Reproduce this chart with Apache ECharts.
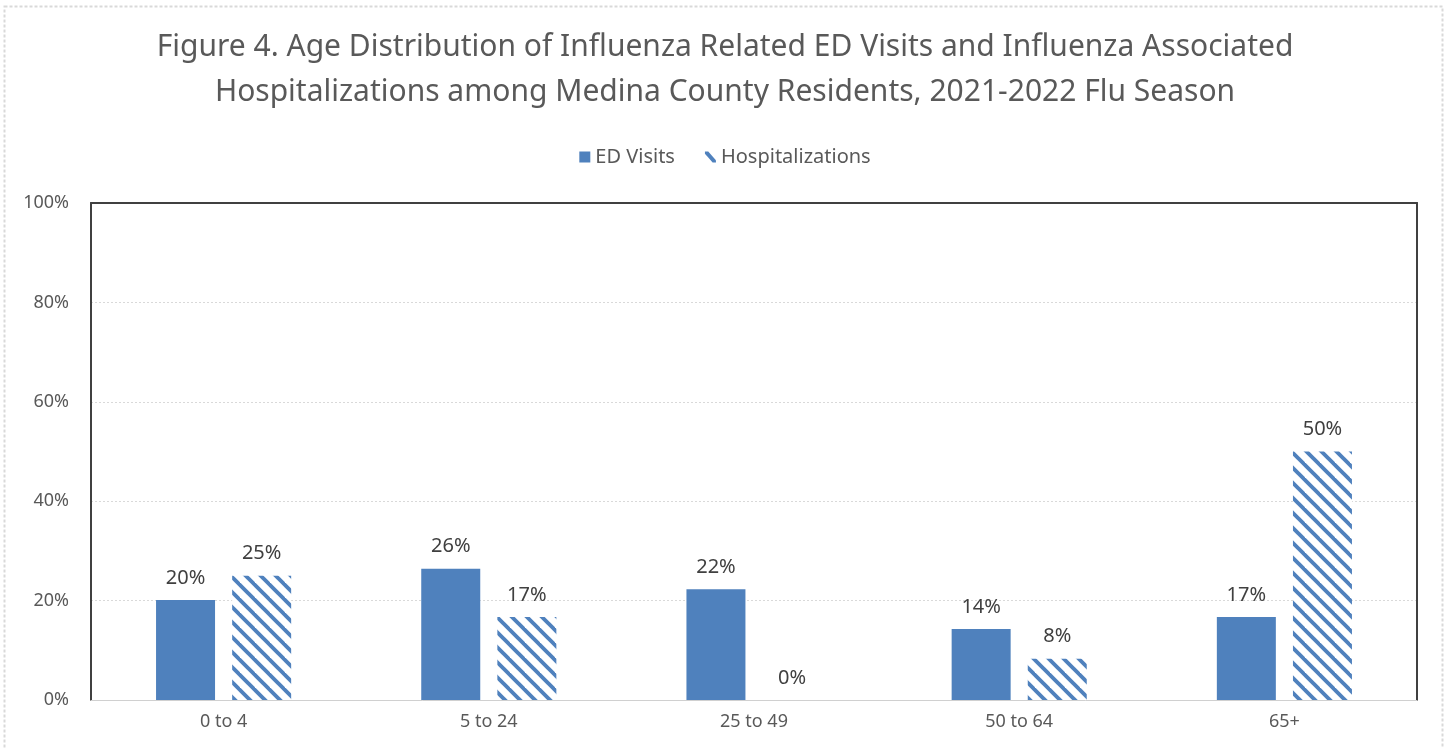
<!DOCTYPE html>
<html><head><meta charset="utf-8">
<script src="https://cdn.jsdelivr.net/npm/echarts@6/dist/echarts.min.js"></script>
<style>html,body{margin:0;padding:0;background:#fff}#c{width:1450px;height:748px}</style>
</head><body><div id="c"></div>
<script>
var categories = ['0 to 4', '5 to 24', '25 to 49', '50 to 64', '65+'];
var edVisits = [20.1, 26.4, 22.3, 14.3, 16.7];
var hospitalizations = [25.0, 16.7, 0, 8.3, 50.0];
var yTicks = [0, 20, 40, 60, 80, 100];

var BLUE = '#4f81bd';
function hatch() {
  var s = 15, c = document.createElement('canvas');
  c.width = s; c.height = s;
  var g = c.getContext('2d');
  g.fillStyle = '#fff'; g.fillRect(0, 0, s, s);
  g.strokeStyle = BLUE; g.lineWidth = 3.8;
  for (var k = -1; k <= 1; k++) {
    g.beginPath(); g.moveTo(k * s - 2, -2); g.lineTo(k * s + s + 2, s + 2); g.stroke();
  }
  return c;
}
var pat = { image: hatch(), repeat: 'repeat' };

var chart = echarts.init(document.getElementById('c'));
var lbl = { show: true, position: 'top', distance: 12, fontFamily: 'Noto Sans', fontSize: 20, color: '#404040',
  formatter: function (p) { return Math.round(p.value) + '%'; } };
chart.setOption({
  animation: false,
  title: {
    text: 'Figure 4. Age Distribution of Influenza Related ED Visits and Influenza Associated\nHospitalizations among Medina County Residents, 2021-2022 Flu Season',
    left: 'center', top: 20,
    textStyle: { fontFamily: 'Noto Sans', fontWeight: 'normal', fontSize: 30, color: '#595959', lineHeight: 45 }
  },
  legend: {
    top: 142, left: 'center', itemWidth: 11, itemHeight: 11, itemGap: 30,
    textStyle: { fontFamily: 'Noto Sans', fontSize: 20, color: '#595959' },
    data: [
      { name: 'ED Visits', icon: 'rect', itemStyle: { color: BLUE } },
      { name: 'Hospitalizations', icon: 'path://M0,0 L3,0 L10,8 L10,10 L7,10 L0,2 Z', itemStyle: { color: BLUE } }
    ]
  },
  graphic: [{
    type: 'rect', shape: { x: 4.5, y: 6.5, width: 1438, height: 760 },
    style: { fill: 'none', stroke: '#d9d9d9', lineWidth: 2, lineDash: [3, 2] }, silent: true, z: -1
  }],
  grid: { left: 91, right: 33, top: 203, bottom: 48 },
  xAxis: [{
    type: 'category', data: categories,
    axisLine: { onZero: false, lineStyle: { color: '#d0d0d0', width: 1 } },
    axisTick: { show: false },
    axisLabel: { fontFamily: 'Noto Sans', fontSize: 18, color: '#595959', margin: 13 }
  }, {
    type: 'category', data: categories, position: 'top',
    axisLine: { onZero: false, lineStyle: { color: '#404040', width: 2 } },
    axisTick: { show: false }, axisLabel: { show: false }
  }],
  yAxis: [{
    type: 'value', min: 0, max: 100, interval: 20,
    axisLine: { show: true, onZero: false, lineStyle: { color: '#404040', width: 2 } },
    axisTick: { show: false },
    splitLine: { lineStyle: { color: '#d9d9d9', type: [2, 2] } },
    axisLabel: { fontFamily: 'Noto Sans', fontSize: 18, color: '#595959', margin: 22,
      formatter: function (v) { return yTicks.indexOf(v) >= 0 ? v + '%' : ''; } }
  }, {
    type: 'value', min: 0, max: 100, interval: 20, position: 'right',
    axisLine: { show: true, onZero: false, lineStyle: { color: '#404040', width: 2 } },
    axisTick: { show: false }, splitLine: { show: false }, axisLabel: { show: false }
  }],
  series: [{
    name: 'ED Visits', type: 'bar', data: edVisits, barWidth: 59, barGap: '29%',
    itemStyle: { color: BLUE }, label: lbl
  }, {
    name: 'Hospitalizations', type: 'bar', data: hospitalizations, barWidth: 59,
    itemStyle: { color: pat }, label: lbl
  }]
});
</script></body></html>
